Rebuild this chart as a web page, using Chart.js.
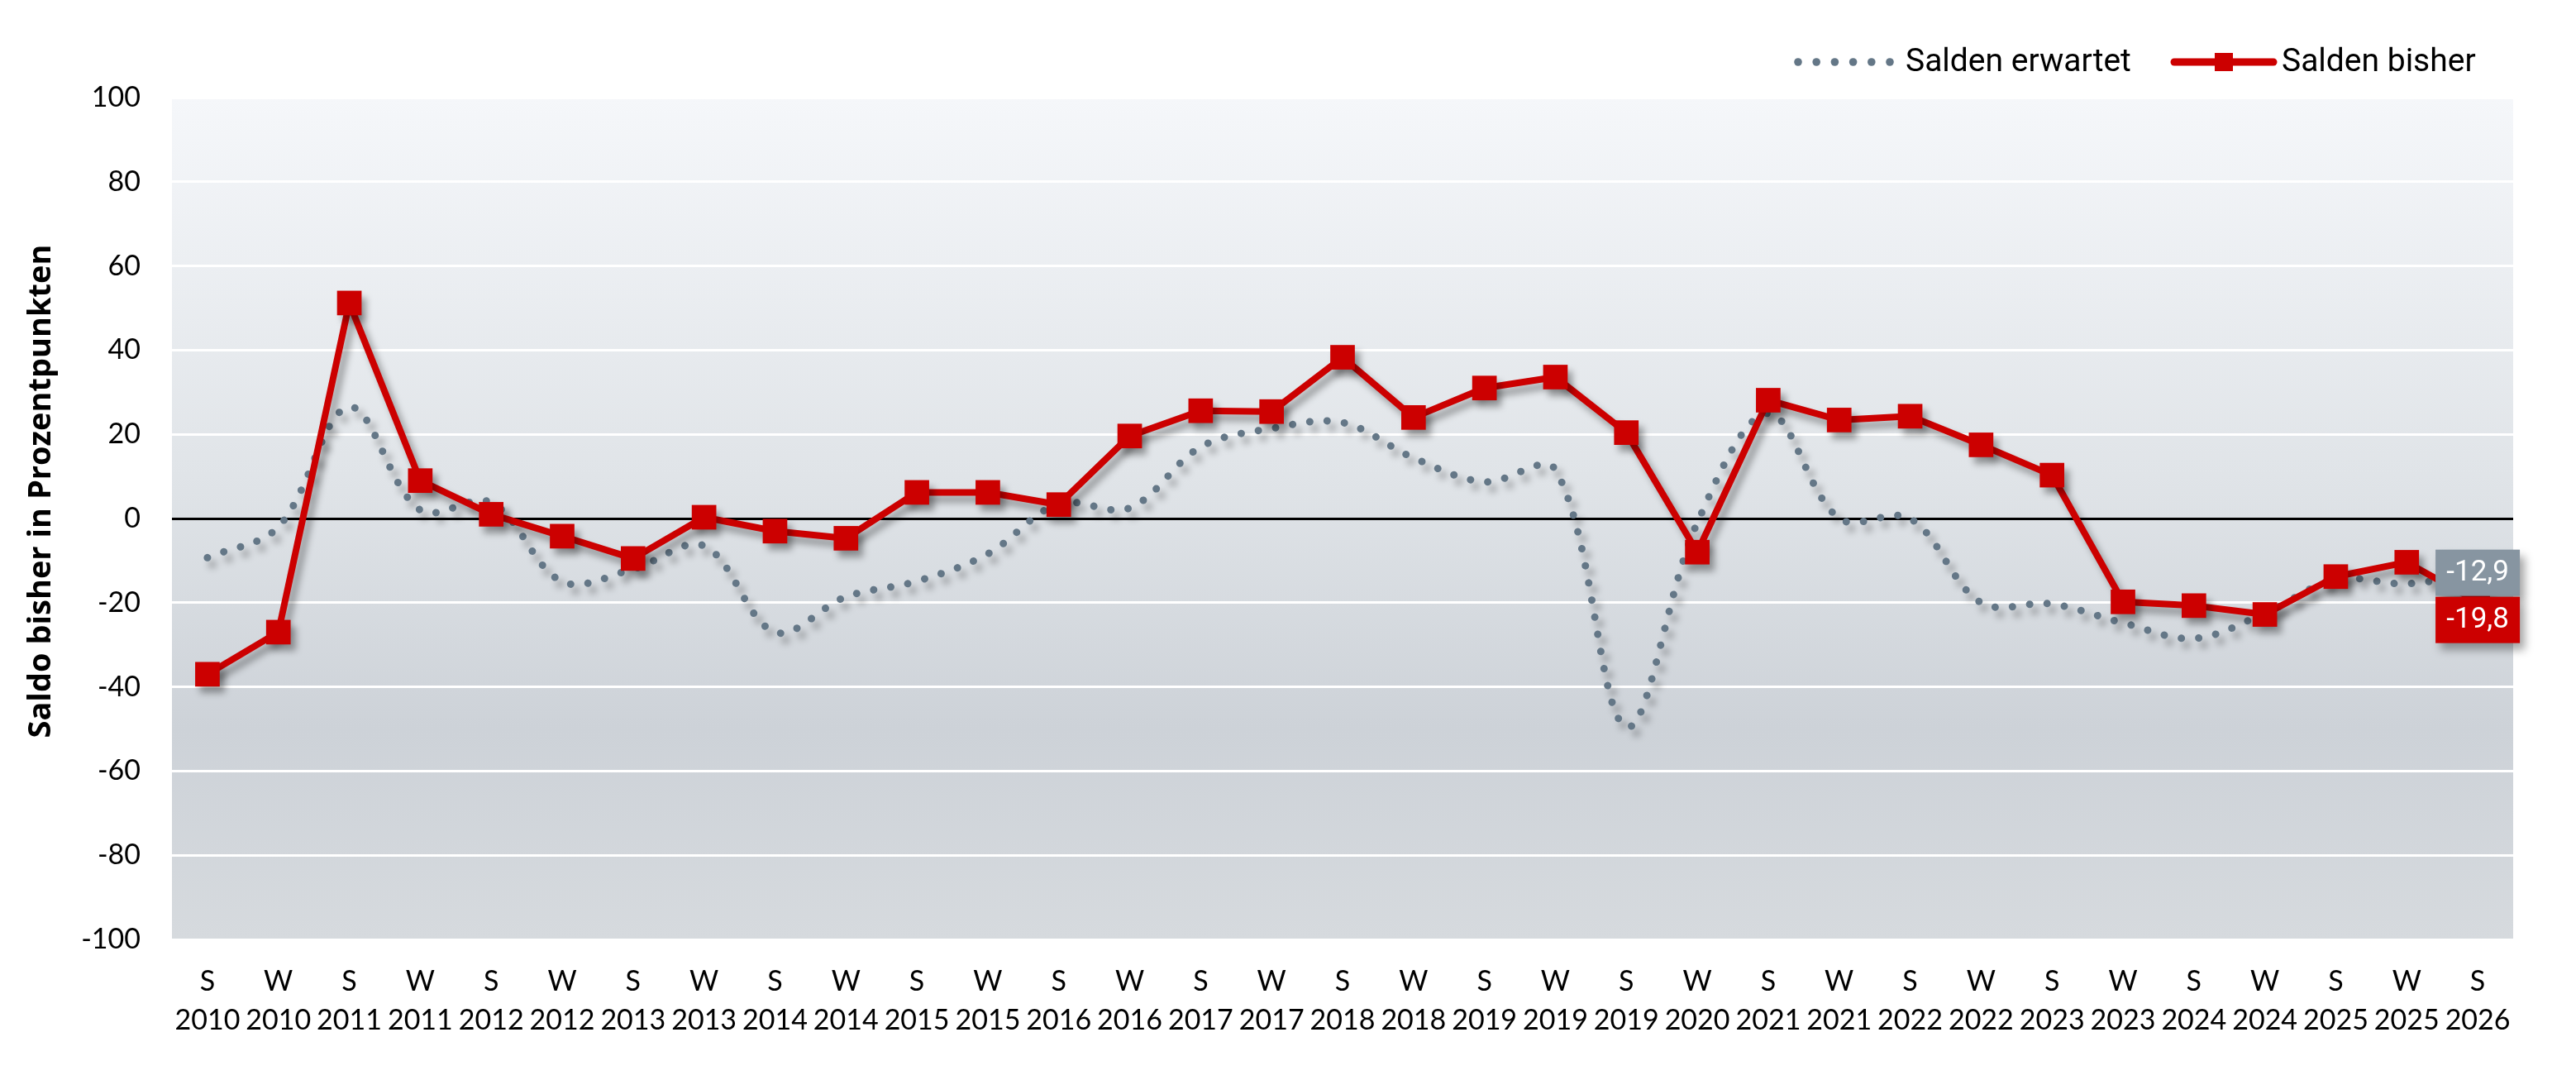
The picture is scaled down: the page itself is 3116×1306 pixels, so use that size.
<!DOCTYPE html>
<html><head><meta charset="utf-8">
<script src="https://cdn.jsdelivr.net/npm/chart.js@4.4.1/dist/chart.umd.min.js"></script>
<style>html,body{margin:0;padding:0;background:#fff;}#wrap{width:3116px;height:1306px;position:relative;}</style>
</head><body><div id="wrap"><canvas id="c"></canvas></div>
<script>
// ---- data ----
const seasons = ['S','W','S','W','S','W','S','W','S','W','S','W','S','W','S','W','S','W','S','W','S','W','S','W','S','W','S','W','S','W','S','W','S'];
const years = ['2010','2010','2011','2011','2012','2012','2013','2013','2014','2014','2015','2015','2016','2016','2017','2017','2018','2018','2019','2019','2019','2020','2021','2021','2022','2022','2023','2023','2024','2024','2025','2025','2026'];
const saldenErwartet = [-9.3,-2,26.5,2,3.8,-15,-12,-6.5,-27,-18.6,-14.9,-8.4,3.5,2.5,17,21.4,22.8,14.4,8.7,11.6,-49.5,-1,25,0,0,-20,-20.3,-24.8,-28.5,-22.5,-14.5,-15.5,-12.9];
const saldenBisher = [-37,-27,51.2,9,1,-4.2,-9.5,0.3,-3,-4.7,6.2,6.2,3.3,19.6,25.6,25.4,38.3,24,31,33.6,20.4,-8,28.1,23.4,24.3,17.5,10.3,-19.8,-20.7,-22.8,-13.8,-10.4,-19.8];
const seriesNames = ['Salden erwartet','Salden bisher'];
const yTickValues = [100,80,60,40,20,0,-20,-40,-60,-80,-100];
const yAxisTitle = 'Saldo bisher in Prozentpunkten';

const RED = '#cc0000';
const GRAY = '#647787';
const labels = seasons.map((s,i)=>[s, years[i]]);

const bgPlugin = {
  id:'bg',
  beforeDraw(chart){
    const {ctx, chartArea:a} = chart;
    const g = ctx.createLinearGradient(0,a.top,0,a.bottom);
    g.addColorStop(0,'#f5f7fa');
    g.addColorStop(0.45,'#e0e4e8');
    g.addColorStop(0.75,'#cdd2d8');
    g.addColorStop(1,'#d6dade');
    ctx.save(); ctx.fillStyle = g; ctx.fillRect(a.left,a.top,a.right-a.left,a.bottom-a.top); ctx.restore();
  }
};
const shadowPlugin = {
  id:'shadow',
  beforeDatasetDraw(chart){
    const ctx = chart.ctx; ctx.save();
    ctx.shadowColor='rgba(0,0,0,0.35)'; ctx.shadowBlur=8; ctx.shadowOffsetX=6; ctx.shadowOffsetY=8;
  },
  afterDatasetDraw(chart){ chart.ctx.restore(); }
};
function fmt(v){ return v.toFixed(1).replace('.',','); }
const endLabels = {
  id:'endLabels',
  afterDatasetsDraw(chart){
    const {ctx, scales:{x,y}} = chart;
    const n = labels.length-1;
    const cx = x.getPixelForValue(n);
    const w=102, h=56;
    const gy = y.getPixelForValue(saldenErwartet[n]);
    const ry = Math.max(y.getPixelForValue(saldenBisher[n]), gy + h + 1);
    const boxes = [[gy,'#8795a1',fmt(saldenErwartet[n])],[ry,RED,fmt(saldenBisher[n])]];
    ctx.save();
    ctx.font = '35px Roboto'; ctx.textAlign='center'; ctx.textBaseline='middle';
    for (const [cy,col,t] of boxes){
      ctx.save();
      ctx.shadowColor='rgba(0,0,0,0.35)'; ctx.shadowBlur=10; ctx.shadowOffsetX=6; ctx.shadowOffsetY=8;
      ctx.fillStyle=col; ctx.fillRect(cx-w/2, cy-h/2, w, h);
      ctx.restore();
      ctx.fillStyle='#fff'; ctx.fillText(t, cx, cy+1);
    }
    ctx.restore();
  }
};
const legendTitle = {
  id:'legendTitle',
  afterDraw(chart){
    const ctx = chart.ctx;
    ctx.save();
    ctx.translate(50,594); ctx.rotate(-Math.PI/2);
    ctx.font='bold 38px "Open Sans"'; ctx.fillStyle='#000'; ctx.textAlign='center'; ctx.textBaseline='middle';
    ctx.fillText(yAxisTitle,0,0);
    ctx.restore();
    ctx.save();
    const ly = 75;
    ctx.fillStyle = GRAY;
    for (let k=0;k<6;k++){ ctx.beginPath(); ctx.arc(2175+k*22.2, ly, 4.8, 0, Math.PI*2); ctx.fill(); }
    ctx.font='39px Roboto'; ctx.fillStyle='#000'; ctx.textAlign='left'; ctx.textBaseline='middle';
    ctx.fillText(seriesNames[0], 2305, ly+1);
    ctx.strokeStyle = RED; ctx.lineWidth = 9; ctx.lineCap='round';
    ctx.beginPath(); ctx.moveTo(2630, ly); ctx.lineTo(2750, ly); ctx.stroke();
    ctx.fillStyle = RED; ctx.fillRect(2679, ly-11, 22, 22);
    ctx.fillStyle='#000';
    ctx.fillText(seriesNames[1], 2760, ly+1);
    ctx.restore();
  }
};

new Chart(document.getElementById('c'), {
  type:'line',
  data:{
    labels,
    datasets:[
      { label:seriesNames[0], data:saldenErwartet, borderColor:GRAY, backgroundColor:GRAY, borderWidth:9,
        borderDash:[0.01,21], borderCapStyle:'round', pointRadius:0, tension:0.35, order:1, fill:false },
      { label:seriesNames[1], data:saldenBisher, borderColor:RED, backgroundColor:RED, borderWidth:8,
        pointStyle:'rect', pointRadius:21, pointBackgroundColor:RED, pointBorderColor:RED, pointBorderWidth:0,
        tension:0, order:0, fill:false, borderJoinStyle:'round' }
    ]
  },
  options:{
    responsive:true, maintainAspectRatio:false, animation:false, devicePixelRatio:1,
    layout:{ padding:{ left:0, top:118, right:76, bottom:0 } },
    plugins:{ legend:{display:false}, tooltip:{enabled:false} },
    scales:{
      x:{ type:'category', offset:true,
        grid:{ display:false, drawTicks:false }, border:{display:false},
        ticks:{ autoSkip:false, maxRotation:0, minRotation:0, padding:28, color:'#000',
          font:{ family:'Lato', size:34, lineHeight:1.38 } },
        afterFit(s){ s.height = 170; } },
      y:{ min:-100, max:100, afterBuildTicks(s){ s.ticks = yTickValues.map(v=>({value:v})); },
        grid:{ drawTicks:false, lineWidth:3, color:(c)=> c.tick && c.tick.value===0 ? '#000' : '#ffffff' },
        border:{display:false},
        ticks:{ padding:38, color:'#000', font:{ family:'Lato', size:34 } },
        afterFit(s){ s.width = 208; } }
    }
  },
  plugins:[bgPlugin, shadowPlugin, endLabels, legendTitle]
});
</script></body></html>
